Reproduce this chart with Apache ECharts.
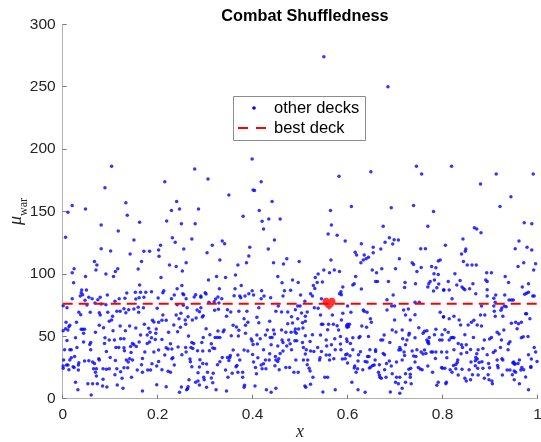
<!DOCTYPE html>
<html><head><meta charset="utf-8">
<script src="https://cdn.jsdelivr.net/npm/echarts@6/dist/echarts.min.js"></script>
<style>html,body{margin:0;padding:0;background:#fff}#c{width:541px;height:442px}</style>
</head><body><div id="c"></div>
<script>
const titleText = 'Combat Shuffledness';
const legendNames = ['other decks', 'best deck'];
const xName = 'x';
const bestDeckValue = 76;
const bestDeckX = 0.561;

// other decks, grouped by x band
const band1 = [[0.103,186.2],[0.089,169.1],[0.020,154.9],[0.133,157.1],[0.011,149.3],[0.048,152.0],[0.136,146.9],[0.162,141.3],[0.081,139.2],[0.117,134.4],[0.006,129.3],[0.150,127.1],[0.081,120.2],[0.171,118.1],[0.183,118.1],[0.101,118.3],[0.202,119.1],[0.142,115.9],[0.203,114.1],[0.067,110.0],[0.072,107.1],[0.166,110.0],[0.024,104.2],[0.020,101.0],[0.070,103.1],[0.116,104.2],[0.111,102.0],[0.159,103.9],[0.091,99.9],[0.107,98.0],[0.048,98.0],[0.023,93.0],[0.162,91.1],[0.040,87.1],[0.050,87.1],[0.039,84.9],[0.042,83.3],[0.175,85.2],[0.153,85.2],[0.164,85.2],[0.187,85.7],[0.135,84.7],[0.094,83.1],[0.037,82.3],[0.055,81.2],[0.062,80.1],[0.079,81.2],[0.119,80.1],[0.131,80.4],[0.047,78.8],[0.074,79.3],[0.154,79.9],[0.161,80.9],[0.171,81.2],[0.020,80.1],[0.001,74.5],[0.051,75.1],[0.110,78.0],[0.009,72.9],[0.068,76.7],[0.081,75.9],[0.091,75.3],[0.129,72.1],[0.150,71.9],[0.159,73.2],[0.170,72.9],[0.114,70.0],[0.121,70.0],[0.139,71.3],[0.058,69.2],[0.034,69.2],[0.038,67.3],[0.077,68.9],[0.079,67.0],[0.095,69.2],[0.105,66.0],[0.133,68.9],[0.160,69.2],[0.199,72.4],[0.103,63.0],[0.007,61.2],[0.029,61.2],[0.098,62.0],[0.077,58.8],[0.015,58.8],[0.013,57.7],[0.121,58.2],[0.141,58.2],[0.172,59.6],[0.189,62.8],[0.192,61.4],[0.202,61.2],[0.006,56.1],[0.001,54.5],[0.011,55.0],[0.039,55.6],[0.042,55.6],[0.046,55.6],[0.086,56.9],[0.132,54.5],[0.154,56.6],[0.181,56.4],[0.197,55.8],[0.044,52.4],[0.106,54.5],[0.196,52.4],[0.184,53.2],[0.069,53.2],[0.164,51.0],[0.178,51.0],[0.027,48.9],[0.009,46.7],[0.089,48.9],[0.098,47.0],[0.109,47.0],[0.122,48.1],[0.129,48.1],[0.187,48.9],[0.195,47.5],[0.044,45.4],[0.059,45.1],[0.057,43.5],[0.088,44.3],[0.147,44.3],[0.161,45.4],[0.183,45.4],[0.178,44.3],[0.030,41.1],[0.004,39.3],[0.015,39.3],[0.018,39.3],[0.059,39.3],[0.112,41.1],[0.118,41.1],[0.129,40.9],[0.143,41.9],[0.150,43.3],[0.155,41.9],[0.092,37.9],[0.130,38.5],[0.202,39.0],[0.173,37.4],[0.192,37.4],[0.144,37.1],[0.025,33.9],[0.018,32.9],[0.100,33.1],[0.168,32.3],[0.002,31.0],[0.015,31.0],[0.046,30.2],[0.055,30.4],[0.077,31.0],[0.076,32.1],[0.111,30.7],[0.134,31.0],[0.138,29.4],[0.141,32.1],[0.147,31.0],[0.034,28.8],[0.063,29.4],[0.067,28.3],[0.011,27.0],[0.008,27.0],[0.001,26.2],[0.022,25.6],[0.033,27.0],[0.166,27.2],[0.198,26.2],[0.188,28.0],[0.001,24.3],[0.013,23.2],[0.024,25.1],[0.065,24.0],[0.071,24.0],[0.085,24.0],[0.092,23.5],[0.098,24.0],[0.114,24.0],[0.129,24.8],[0.137,24.8],[0.157,23.0],[0.179,23.0],[0.185,23.0],[0.033,23.0],[0.069,21.1],[0.122,21.6],[0.168,21.1],[0.110,19.2],[0.071,18.2],[0.085,15.5],[0.125,16.3],[0.145,17.1],[0.027,13.1],[0.053,12.0],[0.063,12.0],[0.073,12.0],[0.115,11.0],[0.198,11.2],[0.084,10.1],[0.093,9.3],[0.032,7.2],[0.127,8.3],[0.168,6.1],[0.060,2.9]];
const band2 = [[0.399,192.0],[0.278,184.0],[0.215,173.9],[0.306,176.0],[0.350,163.2],[0.401,167.2],[0.240,158.1],[0.229,150.9],[0.246,152.0],[0.286,152.0],[0.219,142.4],[0.250,140.2],[0.279,140.2],[0.380,146.1],[0.231,129.0],[0.237,125.3],[0.272,127.9],[0.206,122.9],[0.255,119.9],[0.315,122.9],[0.336,126.3],[0.341,124.2],[0.304,117.0],[0.394,121.3],[0.392,114.3],[0.331,111.1],[0.225,107.1],[0.239,106.0],[0.260,109.0],[0.387,109.0],[0.369,107.1],[0.252,102.3],[0.207,97.2],[0.307,95.1],[0.324,98.0],[0.343,97.2],[0.364,99.1],[0.251,90.8],[0.376,90.8],[0.213,86.5],[0.211,84.9],[0.241,88.1],[0.253,84.1],[0.255,83.3],[0.235,83.1],[0.300,84.9],[0.302,83.9],[0.330,88.1],[0.363,88.1],[0.280,83.3],[0.291,81.2],[0.322,79.9],[0.327,81.5],[0.361,82.5],[0.373,82.3],[0.384,82.3],[0.392,84.1],[0.399,86.5],[0.260,80.1],[0.277,81.5],[0.291,82.3],[0.335,80.1],[0.375,80.9],[0.229,80.1],[0.201,80.7],[0.308,77.2],[0.319,77.7],[0.329,76.7],[0.241,75.3],[0.254,74.8],[0.291,72.9],[0.262,72.9],[0.283,71.0],[0.288,69.7],[0.320,70.8],[0.328,71.6],[0.347,71.3],[0.354,69.4],[0.371,70.0],[0.388,70.0],[0.211,67.0],[0.239,67.0],[0.249,68.4],[0.296,66.5],[0.294,65.4],[0.264,65.7],[0.345,66.0],[0.209,62.8],[0.218,62.8],[0.245,64.1],[0.258,63.0],[0.273,63.0],[0.281,64.6],[0.382,64.1],[0.234,59.0],[0.248,57.2],[0.259,59.6],[0.302,56.1],[0.359,58.8],[0.366,57.4],[0.390,61.2],[0.385,58.8],[0.371,54.8],[0.223,53.2],[0.242,53.7],[0.327,54.2],[0.340,55.0],[0.338,53.7],[0.385,52.4],[0.310,51.3],[0.355,50.5],[0.265,50.2],[0.296,49.1],[0.321,49.1],[0.326,49.1],[0.331,49.1],[0.370,50.2],[0.397,47.8],[0.209,47.5],[0.399,46.2],[0.401,43.5],[0.272,45.1],[0.276,44.3],[0.293,45.1],[0.227,44.1],[0.313,44.1],[0.218,40.9],[0.222,39.8],[0.230,39.8],[0.243,41.4],[0.259,41.1],[0.270,41.1],[0.274,40.3],[0.284,38.5],[0.295,38.2],[0.316,40.6],[0.320,40.3],[0.309,38.5],[0.359,39.0],[0.382,39.0],[0.390,38.2],[0.215,35.0],[0.260,37.4],[0.251,35.3],[0.232,32.9],[0.230,32.1],[0.268,31.8],[0.269,29.6],[0.289,31.3],[0.336,33.1],[0.347,33.1],[0.353,34.7],[0.352,33.1],[0.369,35.0],[0.373,31.0],[0.331,29.6],[0.350,30.7],[0.202,29.9],[0.235,27.0],[0.272,25.6],[0.288,25.4],[0.295,28.3],[0.303,27.8],[0.326,27.2],[0.367,26.7],[0.365,25.6],[0.402,29.4],[0.209,23.2],[0.222,21.9],[0.227,21.1],[0.305,21.1],[0.343,23.0],[0.357,20.3],[0.369,21.1],[0.379,21.1],[0.285,20.8],[0.317,20.3],[0.348,17.1],[0.379,17.1],[0.297,17.1],[0.313,16.6],[0.298,15.2],[0.266,15.2],[0.285,14.2],[0.280,13.1],[0.316,12.8],[0.218,9.6],[0.250,9.3],[0.263,8.0],[0.288,11.0],[0.383,10.7],[0.382,9.1],[0.264,9.6],[0.303,9.1],[0.323,7.2],[0.345,6.1],[0.246,5.1],[0.261,7.2]];
const band3 = [[0.582,178.2],[0.418,173.9],[0.404,166.9],[0.441,158.1],[0.564,150.9],[0.414,150.9],[0.458,144.0],[0.434,144.0],[0.420,142.1],[0.423,136.0],[0.566,139.2],[0.559,131.9],[0.578,130.9],[0.595,126.3],[0.446,127.1],[0.433,119.9],[0.565,111.1],[0.472,112.2],[0.465,107.9],[0.444,109.0],[0.498,110.0],[0.550,103.1],[0.562,101.0],[0.572,103.1],[0.583,102.0],[0.538,99.9],[0.532,97.2],[0.453,98.0],[0.484,95.1],[0.496,93.2],[0.462,93.0],[0.547,93.5],[0.536,93.2],[0.528,90.8],[0.467,86.5],[0.531,88.4],[0.590,89.5],[0.419,86.5],[0.480,86.8],[0.586,85.7],[0.402,83.1],[0.424,82.3],[0.501,83.1],[0.522,84.1],[0.526,82.3],[0.583,84.1],[0.587,83.3],[0.438,80.9],[0.464,82.3],[0.545,80.1],[0.418,80.1],[0.510,78.0],[0.495,74.3],[0.500,74.3],[0.454,74.3],[0.413,72.9],[0.449,70.0],[0.461,69.4],[0.474,69.4],[0.490,71.3],[0.503,68.6],[0.515,69.4],[0.530,72.9],[0.538,72.4],[0.568,67.0],[0.590,68.4],[0.409,65.2],[0.413,60.9],[0.436,62.0],[0.482,65.7],[0.495,64.1],[0.511,66.0],[0.543,67.0],[0.570,59.6],[0.578,58.5],[0.587,63.0],[0.598,58.5],[0.484,60.6],[0.474,60.1],[0.505,60.9],[0.511,62.0],[0.545,59.6],[0.548,59.6],[0.560,59.6],[0.599,57.2],[0.506,56.6],[0.490,55.8],[0.489,53.7],[0.497,55.8],[0.431,55.0],[0.444,55.0],[0.461,55.0],[0.470,53.2],[0.558,55.3],[0.581,55.0],[0.409,51.0],[0.427,51.0],[0.437,49.1],[0.441,49.1],[0.446,51.8],[0.481,53.2],[0.492,52.4],[0.511,50.5],[0.526,51.3],[0.543,51.0],[0.416,48.1],[0.462,47.0],[0.464,45.1],[0.476,47.0],[0.489,46.5],[0.493,46.5],[0.505,45.1],[0.521,45.9],[0.555,47.0],[0.573,48.1],[0.585,49.9],[0.598,47.8],[0.410,43.8],[0.439,43.3],[0.453,42.2],[0.472,42.2],[0.479,44.1],[0.507,41.1],[0.513,39.3],[0.522,38.2],[0.537,41.1],[0.556,42.2],[0.566,43.3],[0.585,43.8],[0.586,39.3],[0.599,45.9],[0.423,39.3],[0.482,39.3],[0.545,37.9],[0.464,38.2],[0.400,35.5],[0.436,36.1],[0.458,36.3],[0.511,35.8],[0.529,37.9],[0.555,35.0],[0.562,35.0],[0.574,39.3],[0.596,35.3],[0.411,32.9],[0.427,31.0],[0.435,31.0],[0.448,33.9],[0.449,31.0],[0.453,29.9],[0.455,32.1],[0.491,31.0],[0.507,31.0],[0.516,31.0],[0.542,32.9],[0.541,31.0],[0.562,31.0],[0.571,32.1],[0.589,31.8],[0.595,32.1],[0.599,35.8],[0.406,25.1],[0.418,27.0],[0.420,24.0],[0.428,24.0],[0.423,28.0],[0.447,26.4],[0.456,23.2],[0.470,25.1],[0.478,25.1],[0.515,27.2],[0.519,24.3],[0.521,22.2],[0.408,20.0],[0.487,21.1],[0.496,21.1],[0.527,17.1],[0.552,17.1],[0.558,17.1],[0.405,10.1],[0.429,7.2],[0.439,5.1],[0.449,8.3],[0.510,10.1],[0.512,9.1],[0.522,11.5],[0.548,5.3],[0.574,7.2]];
const band4 = [[0.649,181.9],[0.745,186.2],[0.756,180.0],[0.608,154.1],[0.692,153.0],[0.739,154.9],[0.781,150.1],[0.675,138.1],[0.769,138.1],[0.688,129.0],[0.698,127.4],[0.707,127.1],[0.679,125.3],[0.695,123.9],[0.629,124.2],[0.654,121.3],[0.670,119.9],[0.754,120.2],[0.764,120.2],[0.616,117.3],[0.619,115.1],[0.654,117.0],[0.635,115.1],[0.639,112.2],[0.644,113.3],[0.633,111.1],[0.628,109.0],[0.709,112.2],[0.736,109.0],[0.739,107.6],[0.791,110.3],[0.795,111.1],[0.777,106.0],[0.755,105.2],[0.701,104.2],[0.672,104.2],[0.652,103.1],[0.661,101.0],[0.746,102.0],[0.786,105.0],[0.782,100.2],[0.791,99.6],[0.617,98.0],[0.611,91.1],[0.614,92.1],[0.629,87.9],[0.659,94.0],[0.663,94.0],[0.686,94.0],[0.721,93.2],[0.720,89.2],[0.743,92.1],[0.774,94.0],[0.771,92.1],[0.769,89.5],[0.783,95.1],[0.792,91.9],[0.788,88.9],[0.802,87.1],[0.781,86.3],[0.696,83.1],[0.683,79.3],[0.742,77.2],[0.751,77.2],[0.600,74.3],[0.693,74.3],[0.699,74.3],[0.728,71.9],[0.718,71.0],[0.722,67.0],[0.683,71.0],[0.633,71.0],[0.635,70.0],[0.641,69.2],[0.607,69.2],[0.742,67.3],[0.795,69.2],[0.802,65.7],[0.648,64.1],[0.650,61.2],[0.699,63.0],[0.732,63.0],[0.600,59.6],[0.604,59.6],[0.602,57.7],[0.630,58.2],[0.640,57.2],[0.750,56.9],[0.786,55.6],[0.694,55.0],[0.702,53.4],[0.715,55.0],[0.730,52.4],[0.729,51.0],[0.762,54.0],[0.767,54.5],[0.759,52.4],[0.677,51.0],[0.783,51.3],[0.799,51.3],[0.611,48.9],[0.626,49.9],[0.624,48.9],[0.644,49.9],[0.670,47.0],[0.674,47.0],[0.716,48.1],[0.725,47.0],[0.742,48.9],[0.772,49.1],[0.767,47.0],[0.770,45.9],[0.769,45.1],[0.794,47.0],[0.606,44.3],[0.689,45.1],[0.722,43.3],[0.771,44.1],[0.799,47.0],[0.611,39.3],[0.627,37.7],[0.647,39.3],[0.659,39.3],[0.659,37.9],[0.675,36.3],[0.710,41.1],[0.712,39.3],[0.708,39.0],[0.719,37.4],[0.736,38.2],[0.746,39.3],[0.755,37.4],[0.762,39.0],[0.765,36.3],[0.776,37.4],[0.779,37.4],[0.786,37.4],[0.798,37.4],[0.605,34.5],[0.623,35.3],[0.642,33.9],[0.645,33.9],[0.678,35.3],[0.720,34.7],[0.739,34.2],[0.744,33.9],[0.759,35.8],[0.785,32.3],[0.622,30.2],[0.637,29.9],[0.641,29.4],[0.658,31.0],[0.682,28.3],[0.688,30.2],[0.703,29.4],[0.715,31.0],[0.742,29.4],[0.600,28.6],[0.653,26.7],[0.667,27.2],[0.692,26.2],[0.615,26.2],[0.614,24.6],[0.621,24.0],[0.632,23.2],[0.646,24.6],[0.649,25.4],[0.656,27.0],[0.618,21.1],[0.665,21.1],[0.678,23.2],[0.733,24.3],[0.729,23.5],[0.749,25.1],[0.753,23.8],[0.757,23.2],[0.769,26.2],[0.779,21.1],[0.798,25.1],[0.800,24.3],[0.667,19.0],[0.668,17.1],[0.671,16.3],[0.681,17.1],[0.694,20.0],[0.703,17.1],[0.710,17.1],[0.722,20.0],[0.732,19.5],[0.732,17.1],[0.609,13.1],[0.701,13.1],[0.707,12.0],[0.722,13.1],[0.734,12.0],[0.791,13.1],[0.788,10.7],[0.715,8.3],[0.622,7.2],[0.637,5.1],[0.690,5.3],[0.710,4.3]];
const band5 = [[0.819,186.2],[0.913,180.0],[0.991,180.0],[0.880,172.0],[0.944,161.9],[0.921,154.1],[0.972,141.0],[0.988,140.2],[0.867,137.0],[0.872,136.0],[0.881,133.0],[0.843,127.9],[0.961,126.3],[0.806,122.9],[0.840,115.9],[0.849,119.9],[0.848,118.1],[0.978,121.3],[0.953,120.2],[0.988,119.1],[0.844,110.0],[0.852,107.1],[0.862,107.1],[0.871,107.1],[0.971,109.0],[0.959,106.0],[0.996,108.2],[0.992,103.1],[0.826,100.2],[0.893,101.0],[0.903,101.0],[0.837,94.8],[0.812,94.0],[0.830,91.1],[0.841,89.5],[0.847,87.3],[0.864,92.1],[0.891,95.1],[0.894,94.0],[0.932,98.0],[0.939,93.2],[0.968,89.5],[0.981,92.1],[0.803,87.1],[0.814,87.1],[0.844,88.4],[0.857,88.1],[0.894,87.3],[0.870,84.1],[0.894,82.3],[0.912,83.1],[0.931,83.1],[0.973,83.6],[0.977,84.4],[0.981,85.2],[0.990,82.3],[0.993,82.3],[0.820,80.1],[0.908,80.4],[0.940,79.1],[0.945,79.1],[0.949,79.1],[0.911,77.2],[0.908,74.3],[0.909,70.0],[0.930,74.3],[0.934,73.7],[0.925,72.7],[0.882,74.3],[0.923,70.8],[0.880,67.0],[0.889,67.0],[0.975,68.1],[0.977,68.1],[0.802,65.4],[0.824,66.0],[0.814,64.1],[0.911,66.0],[0.927,66.0],[0.984,64.1],[0.835,63.0],[0.838,59.0],[0.861,61.2],[0.866,62.8],[0.873,59.0],[0.882,58.2],[0.854,59.0],[0.945,60.4],[0.954,61.2],[0.960,60.1],[0.966,61.2],[0.957,56.1],[0.805,55.3],[0.812,53.2],[0.821,49.1],[0.818,48.9],[0.824,48.9],[0.847,51.3],[0.915,53.2],[0.929,55.0],[0.919,51.8],[0.865,49.1],[0.888,47.0],[0.899,47.8],[0.903,49.1],[0.924,47.0],[0.966,48.9],[0.970,49.7],[0.980,49.9],[0.814,47.0],[0.833,44.3],[0.840,43.3],[0.850,43.3],[0.842,41.1],[0.942,45.7],[0.939,44.1],[0.993,41.1],[0.996,37.4],[0.809,37.4],[0.824,39.3],[0.851,37.1],[0.859,39.5],[0.875,39.3],[0.885,40.3],[0.911,38.5],[0.907,37.1],[0.922,41.1],[0.938,39.3],[0.981,35.3],[0.809,32.9],[0.832,31.0],[0.839,36.1],[0.872,36.1],[0.873,31.8],[0.894,35.3],[0.915,31.0],[0.925,32.1],[0.927,31.0],[0.962,31.0],[0.987,31.8],[0.870,33.1],[0.831,29.1],[0.860,29.4],[0.869,30.4],[0.877,29.1],[0.883,29.6],[0.916,26.7],[0.948,28.8],[0.951,27.8],[0.950,29.4],[0.953,27.8],[0.959,28.3],[0.897,28.3],[0.999,29.9],[0.805,24.3],[0.816,23.2],[0.823,26.7],[0.828,27.5],[0.828,24.0],[0.869,26.4],[0.874,24.3],[0.885,24.3],[0.841,23.5],[0.856,23.2],[0.899,24.8],[0.917,24.8],[0.936,23.0],[0.942,23.0],[0.951,22.2],[0.965,23.0],[0.967,25.1],[0.971,23.2],[0.986,25.1],[0.986,25.9],[0.975,17.4],[0.820,21.1],[0.833,19.0],[0.863,19.2],[0.875,19.0],[0.896,19.2],[0.926,19.0],[0.947,19.2],[0.954,21.1],[0.847,16.3],[0.850,14.2],[0.859,15.2],[0.888,16.3],[0.898,15.2],[0.904,14.2],[0.905,12.0],[0.962,12.0],[0.951,15.2],[0.808,13.1],[0.807,12.0],[0.981,7.2]];
const outliers = [[0.550,274.0],[0.685,250.0]];

const otherDecks = [].concat(band1, band2, band3, band4, band5, outliers);
const SANS = '"Liberation Sans", Helvetica, Arial, sans-serif';
const SERIF = '"Liberation Serif", "Times New Roman", serif';
const HEART = 'path://M12,21.35l-1.45-1.32C5.4,15.36,2,12.28,2,8.5C2,5.42,4.42,3,7.5,3c1.74,0,3.41,0.81,4.5,2.09C13.09,3.81,14.76,3,16.5,3C19.58,3,22,5.42,22,8.5c0,3.78-3.4,6.86-8.55,11.54L12,21.35z';

const chart = echarts.init(document.getElementById('c'), null, {renderer: 'canvas'});
const axisCommon = {
  type: 'value',
  axisLine: {show: true, lineStyle: {color: '#b0b0b0', width: 1}},
  axisTick: {show: true, inside: true, length: 4, lineStyle: {color: '#7a7a7a'}},
  axisLabel: {fontFamily: SANS, fontSize: 15.5, color: '#262626', showMinLabel: true, showMaxLabel: true},
  splitLine: {show: false}
};
chart.setOption({
  animation: false,
  title: {
    text: titleText, left: 300, top: 4, textAlign: 'center',
    textStyle: {fontFamily: SANS, fontWeight: 'bold', fontSize: 16.3, color: '#000'}
  },
  grid: {left: 62.7, right: 3.5, top: 24.3, bottom: 43.3, containLabel: false, outerBoundsMode: 'none'},
  xAxis: Object.assign({}, axisCommon, {
    min: 0, max: 1, interval: 0.2,
    axisLabel: Object.assign({}, axisCommon.axisLabel, {margin: 8}),
    name: xName, nameLocation: 'middle', nameGap: 25, nameMoveOverlap: false,
    nameTextStyle: {fontFamily: SERIF, fontStyle: 'italic', fontSize: 18, color: '#262626'}
  }),
  yAxis: Object.assign({}, axisCommon, {
    min: 0, max: 300, interval: 50,
    axisLabel: Object.assign({}, axisCommon.axisLabel, {margin: 7}),
    name: '{mu|μ}{sub|war}', nameLocation: 'middle', nameGap: 37, nameRotate: 90, nameMoveOverlap: false,
    nameTextStyle: {
      rich: {
        mu: {fontFamily: SERIF, fontStyle: 'italic', fontSize: 18, color: '#262626', lineHeight: 22, verticalAlign: 'bottom'},
        sub: {fontFamily: SERIF, fontSize: 12, color: '#262626', lineHeight: 22, verticalAlign: 'bottom', padding: [0, 0, -4, 0]}
      }
    }
  }),
  series: [
    {type: 'scatter', name: legendNames[0], data: otherDecks, symbol: 'circle', symbolSize: 3.5,
     itemStyle: {color: '#0000ff'}, z: 2},
    {type: 'line', name: legendNames[1], data: [[0, bestDeckValue], [1, bestDeckValue]], symbol: 'none',
     lineStyle: {color: '#ff0000', width: 2, type: [10, 6]}, z: 3},
    {type: 'scatter', name: 'best', data: [[bestDeckX, bestDeckValue]], symbol: HEART, symbolSize: [13, 12],
     itemStyle: {color: '#ff0000'}, z: 4}
  ],
  graphic: [
    {type: 'rect', z: 100, shape: {x: 233.5, y: 96.5, width: 132, height: 44},
     style: {fill: '#fff', stroke: '#8c8c8c', lineWidth: 1}},
    {type: 'circle', z: 101, shape: {cx: 254, cy: 108, r: 1.8}, style: {fill: '#0000ff'}},
    {type: 'text', z: 101, x: 274, y: 108.5,
     style: {text: legendNames[0], fontFamily: SANS, fontSize: 16.5, fill: '#000', verticalAlign: 'middle'}},
    {type: 'line', z: 101, shape: {x1: 238, y1: 128, x2: 266, y2: 128},
     style: {stroke: '#ff0000', lineWidth: 2, lineDash: [10, 8]}},
    {type: 'text', z: 101, x: 274, y: 128.5,
     style: {text: legendNames[1], fontFamily: SANS, fontSize: 16.5, fill: '#000', verticalAlign: 'middle'}}
  ]
});
</script>
</body></html>
